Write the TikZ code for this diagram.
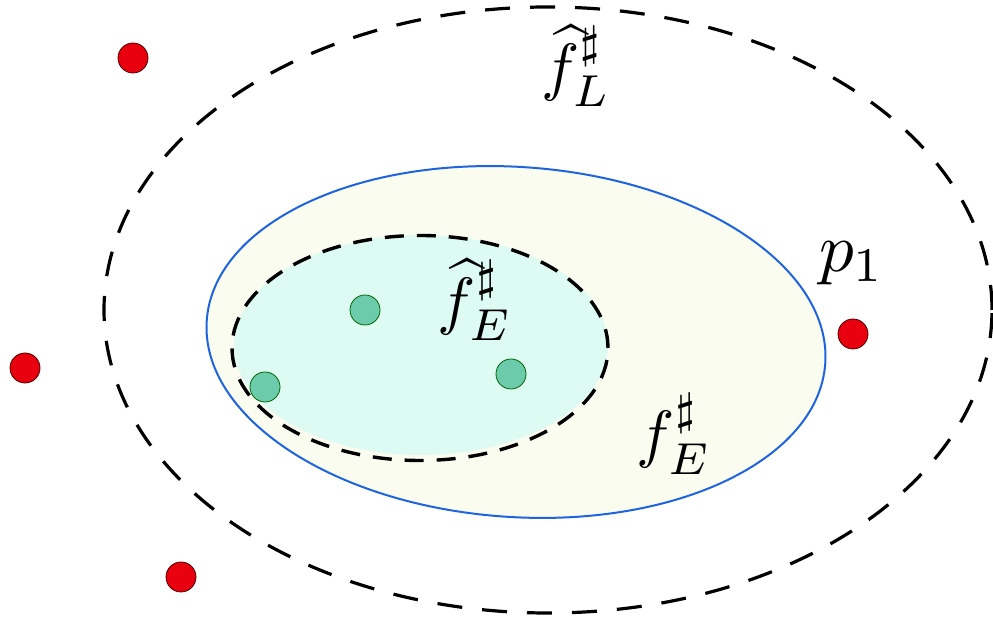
\documentclass[tikz,border=0pt]{standalone}
\usepackage{amsmath,amssymb}
\definecolor{bluel}{RGB}{30,100,225}
\definecolor{yellowfill}{RGB}{250,252,240}
\definecolor{cyanfill}{RGB}{221,250,243}
\definecolor{greendot}{RGB}{108,203,170}
\definecolor{reddot}{RGB}{232,0,14}
\tikzset{
  reddotstyle/.style={circle,draw=black!70!red,line width=0.8pt,fill=reddot,minimum size=30pt,inner sep=0pt},
  greendotstyle/.style={circle,draw=black!60!green,line width=0.8pt,fill=greendot,minimum size=30pt,inner sep=0pt},
  bigdash/.style={line width=3.2pt,dash pattern=on 25pt off 20pt},
  smalldash/.style={line width=3.4pt,dash pattern=on 19pt off 13pt},
  lbl/.style={inner sep=0pt,scale=6.4,transform shape}
}
\begin{document}
\begin{tikzpicture}[x=1pt,y=1pt]
\useasboundingbox (0,0) rectangle (993,620);
\fill[yellowfill,rotate around={-4:(516,278)}] (516,278) ellipse [x radius=310,y radius=175];
\fill[cyanfill] (421,275) ellipse [x radius=187,y radius=110];
\draw[bluel,line width=2pt,rotate around={-4:(516,278)}] (516,278) ellipse [x radius=310,y radius=175];
\draw[smalldash] (420,272) ellipse [x radius=188,y radius=112.5];
\draw[bigdash] (548,310) ellipse [x radius=444,y radius=303];
% dots
\node[reddotstyle] (r1) at (133,562) {};
\node[reddotstyle] (r2) at (25,252) {};
\node[reddotstyle] (r3) at (181,43) {};
\node[reddotstyle] (p1dot) at (853,286) {};
\node[greendotstyle] (g1) at (365,310) {};
\node[greendotstyle] (g2) at (265,233) {};
\node[greendotstyle] (g3) at (511,246) {};
% labels
\node[lbl] (fL) at (576,554) {$\widehat{f}^{\sharp}_{L}$};
\node[lbl] (fhE) at (475,320) {$\widehat{f}^{\sharp}_{E}$};
\node[lbl] (fE) at (674,186) {$f^{\sharp}_{E}$};
\node[lbl,scale=1.08] (p1) at (852,357) {$p_1$};
\end{tikzpicture}
\end{document}
